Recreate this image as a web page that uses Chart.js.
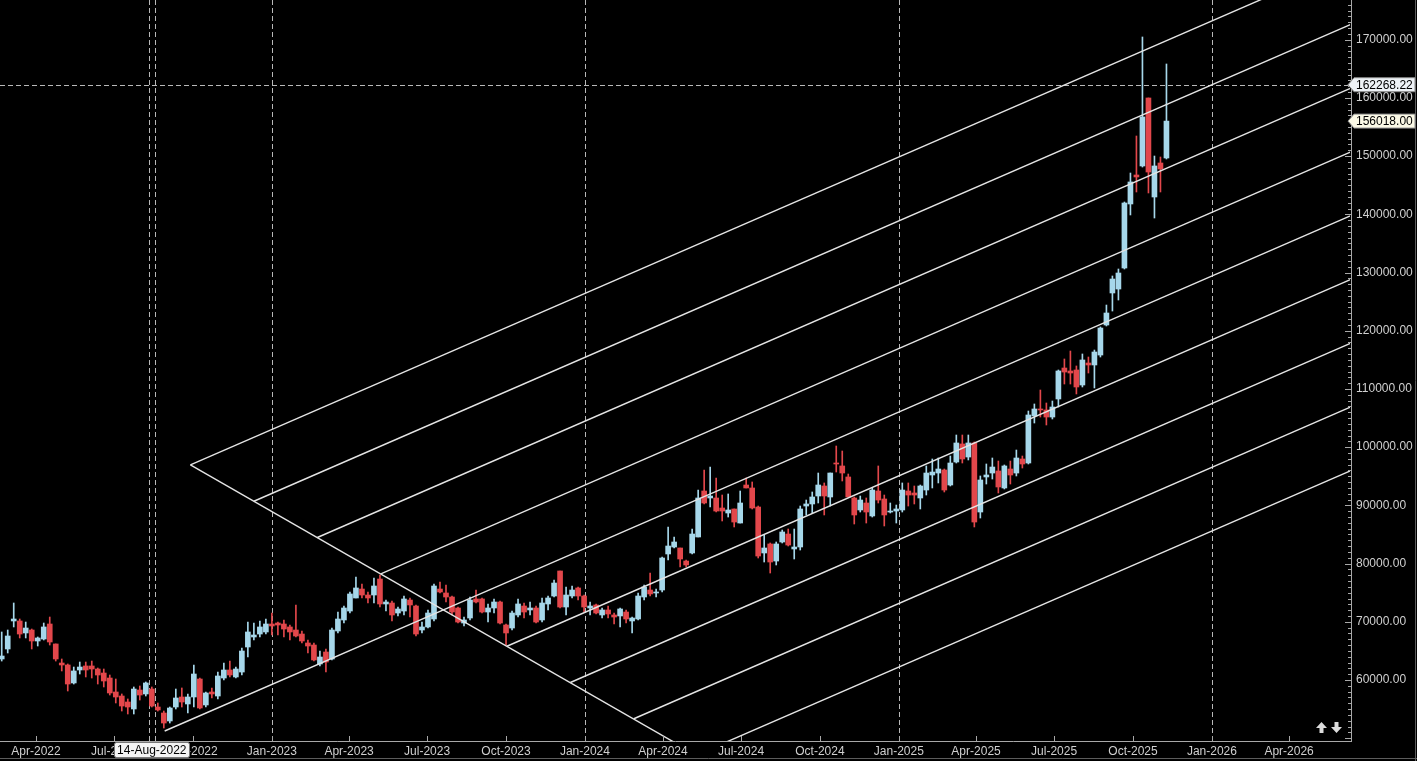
<!DOCTYPE html>
<html>
<head>
<meta charset="utf-8">
<script src="https://cdn.jsdelivr.net/npm/chart.js@4.4.0/dist/chart.umd.min.js"></script>
<style>
  html, body { margin: 0; padding: 0; background: #000; overflow: hidden; }
  #c { display: block; }
</style>
</head>
<body>
<canvas id="c" width="1417" height="761"></canvas>
<script>
// weekly candles, first one opens on this sunday
const firstWeek = '2022-02-20';

const opens = [
  63610,65330,70140,70140,68080,68590,66700,67040,69620,66190,
  62920,62580,59490,61720,62410,62410,61890,61200,60340,57940,
  57250,56220,55020,58280,57600,58450,55360,54330,52960,55360,
  57080,55880,57080,60170,55710,57940,57250,60340,61720,60520,
  61370,65670,67390,67900,68250,69620,69790,69620,69110,68590,
  67900,66360,66010,62750,64810,63610,68420,70310,71850,74090,
  75630,74600,74600,77350,73060,73230,71510,71850,73740,72710,
  68590,69110,70480,75630,74950,74260,72370,69790,70650,73920,
  73920,71680,72370,73400,69450,68930,71170,72710,72030,72370,
  70310,73060,74430,78730,72540,74430,75810,74430,72370,72890,
  71170,72030,71170,71000,71680,70140,70480,74260,75460,74950,
  75460,81650,82850,82680,80440,81820,84570,92470,91270,91270,
  89550,88690,89380,86970,93500,92990,89720,81820,83370,80440,
  83710,85080,82510,82850,89890,90240,91610,93330,91440,97280,
  96770,94880,91270,89210,90410,88180,92470,91100,88860,89030,
  89210,92470,92130,91270,92640,95220,95560,96080,93500,97450,
  100550,98310,100720,88860,94880,95560,95910,92990,96250,95560,
  97970,97280,105360,106560,106390,105180,108280,113600,113090,113260,
  110680,114460,114120,115830,120990,126490,127170,130780,141780,146760,
  148310,159990,142980,148820,149680
];
const highs = [
  68250,68590,73230,70480,69960,68760,67390,69790,70820,66190,
  63610,62750,62230,63090,63090,63260,62060,61890,60860,60170,
  57600,56740,58800,58970,59660,58800,56050,54670,55360,58450,
  58630,57600,62580,60340,57940,58630,61370,62920,63260,62230,
  65500,69960,69790,70140,70480,71510,69960,70310,69450,72880,
  68420,66870,66360,64980,65330,68930,71680,72710,75120,77700,
  76490,75120,77520,78040,73740,73570,72540,74430,74090,72890,
  69960,72030,76490,76840,76320,74430,72540,70820,74260,75460,
  74090,73060,73920,73570,69620,71850,73920,73230,73400,72710,
  74090,74430,77180,78730,75980,76150,75980,74600,73400,73060,
  72370,72710,71510,72370,72030,70820,74950,76320,78380,75630,
  81130,86290,84570,82680,80620,85940,92640,96080,96590,94700,
  91780,91960,89380,92470,94700,94020,89890,84910,83540,83710,
  85770,85940,85940,89890,90920,92300,95560,93850,95560,100200,
  99340,95390,91440,91610,91270,92990,96770,91780,90410,90060,
  93850,93850,93330,93500,96770,97970,98140,96250,98480,102090,
  102090,102090,100890,95050,97110,98140,97620,96940,97620,99510,
  98480,106210,107420,109820,107590,107930,113260,115150,116520,113950,
  116010,115490,116690,120650,124420,129410,130610,142120,147100,153460,
  170470,159990,150020,149850,165830
];
const lows = [
  63260,64640,69110,67220,67220,65330,65840,66870,66010,63260,
  61550,58110,59310,61030,60520,60340,59310,58800,57420,56050,
  54670,54160,54160,56560,57250,55360,54670,51750,52610,55020,
  55360,54330,55360,55020,55360,56910,56740,60000,60520,60340,
  60860,63950,66870,67390,67900,67730,67730,67390,66870,67390,
  66360,64640,63260,62410,61370,63440,68080,69790,71510,74090,
  74090,73230,73230,72540,71850,70140,71000,71170,70820,67560,
  68080,68930,70140,74950,73400,71170,69790,69280,70310,73230,
  71510,69960,71510,69620,66010,68590,70820,70650,71170,69790,
  69960,72030,74260,72370,71170,74090,73740,71680,71170,71340,
  70650,70650,69620,69110,69790,68080,70310,73740,74430,74260,
  75120,80620,82680,79410,79410,81650,84570,90240,89720,88860,
  87320,88000,86290,86970,92990,89380,80960,80270,78380,79760,
  83540,83020,80790,82330,88350,88690,90410,88350,89890,95730,
  94190,91440,86800,88860,86970,88000,90410,86460,88690,86970,
  88860,89890,90240,89380,91780,92990,93850,92300,93330,97280,
  97280,97800,86290,87830,93670,94530,92130,92820,93670,95050,
  96420,97110,104150,105180,103810,104840,106900,110850,110850,109140,
  110340,112740,110170,115490,120820,123390,125280,130610,139890,143840,
  148130,143670,139370,143840,149510
];
const closes = [
  64120,67560,70480,67900,68930,66700,67220,69110,66530,63610,
  62580,59310,61550,62230,61720,61890,60860,59830,57770,57080,
  55530,55360,58450,57420,59490,55530,54850,52610,55190,56910,
  56220,57080,61030,55190,57770,57600,60690,61720,60860,61890,
  64980,68250,67730,69110,69620,69280,69450,68760,68250,67560,
  66700,65840,63440,63950,63090,68590,70480,72370,74780,75810,
  74600,74090,76150,73060,73400,71170,72200,73920,72890,67900,
  69110,71510,76150,75120,74260,71680,69960,70310,73740,73400,
  71680,72370,73400,69790,68080,71510,73060,71680,72370,69960,
  73230,74090,76660,72540,74600,75460,74430,72540,72710,71510,
  72030,71340,70820,72200,70480,70650,74430,75980,74780,75120,
  80960,83020,83710,80790,79760,85080,91270,90410,91610,89030,
  89030,89210,87140,90410,92990,89550,81300,82680,80270,83370,
  85430,83190,82850,89380,90240,91440,93500,91610,95560,97110,
  95560,91440,88350,90920,88860,92640,90920,88350,89030,89380,
  92640,91780,91780,93330,95560,95730,96250,92640,97280,100720,
  97970,100720,87140,94360,95220,96590,93160,96770,95220,98140,
  97110,105530,106560,106390,105180,106900,113090,112910,112740,110340,
  114980,114120,116350,120470,123050,128890,129920,141950,145560,146420,
  156730,147270,148310,147790,156018
];

// axis ticks
const tickDates = ['2022-04-01','2022-07-01','2022-10-01','2023-01-01','2023-04-01','2023-07-01',
  '2023-10-01','2024-01-01','2024-04-01','2024-07-01','2024-10-01','2025-01-01','2025-04-01',
  '2025-07-01','2025-10-01','2026-01-01','2026-04-01'];
const tickLabels = ['Apr-2022','Jul-2022','Oct-2022','Jan-2023','Apr-2023','Jul-2023',
  'Oct-2023','Jan-2024','Apr-2024','Jul-2024','Oct-2024','Jan-2025','Apr-2025',
  'Jul-2025','Oct-2025','Jan-2026','Apr-2026'];
const priceTicks = [60000,70000,80000,90000,100000,110000,120000,130000,140000,150000,160000,170000];
const yearLines = ['2023-01-01','2024-01-01','2025-01-01','2026-01-01'];

// visible window
const viewStart = '2022-02-18', viewEnd = '2026-06-11';
const priceMin = 49520, priceMax = 176824;

// drawn channel: down leg and parallel lines starting along it
const fanStartDates = ['2022-09-28','2022-12-11','2023-02-23','2023-05-08','2023-07-20',
  '2023-10-02','2023-12-15','2024-02-27','2024-05-10'];
const fanStartPrices = [96940, 90710, 84480, 78250, 72030, 65800, 59570, 53340, 47110];
const fanEndDate = '2026-06-30';
const fanEndPrices = [184760, 173800, 162850, 151890, 140940, 129990, 119030, 108080, 97120];
const tailDate = '2022-08-29', tailPrice = 51240; // middle line reaches back to the aug-22 low

// cursor / last price
const cursorLabel = '14-Aug-2022';
const cursorDate = '2022-08-14';
const cursorLines = ['2022-08-11', '2022-08-18'];
const cursorPrice = 162268.22;
const lastPrice = 156018.00;

const BLUE = '#a6d7ea';
const RED = '#e2474b';
const TEXT = '#d0d0d0';
const FONT = 'Liberation Sans';

function dayOf(s) {
  return Date.parse(s + 'T00:00:00Z') / 864e5;
}

const weeks = opens.map((_, i) => dayOf(firstWeek) + 7 * i);
const candleColors = opens.map((o, i) => closes[i] >= o ? BLUE : RED);

const wickData = weeks.map((d, i) => ({ x: d, y: [lows[i], highs[i]] }));
const bodyData = weeks.map((d, i) => ({ x: d, y: [opens[i], closes[i]] }));

const lineSets = [];
const lineStyle = { type: 'line', borderColor: '#e4e4e4', borderWidth: 1.4, pointRadius: 0,
  fill: false, tension: 0, order: 0 };
// down leg
lineSets.push(Object.assign({ data: [
  { x: dayOf(fanStartDates[0]), y: fanStartPrices[0] },
  { x: dayOf(fanStartDates[8]), y: fanStartPrices[8] }
] }, lineStyle));
fanStartDates.forEach((d, k) => {
  const pts = [];
  if (k === 4) pts.push({ x: dayOf(tailDate), y: tailPrice });
  pts.push({ x: dayOf(d), y: fanStartPrices[k] });
  pts.push({ x: dayOf(fanEndDate), y: fanEndPrices[k] });
  lineSets.push(Object.assign({ data: pts }, lineStyle));
});

function seg(ctx, x1, y1, x2, y2) {
  ctx.beginPath();
  ctx.moveTo(x1, y1);
  ctx.lineTo(x2, y2);
  ctx.stroke();
}

function priceTag(ctx, x, y, text, fill) {
  ctx.save();
  ctx.font = '12px ' + FONT;
  const w = 63, h = 14;
  ctx.beginPath();
  ctx.moveTo(x - 4, y);
  ctx.lineTo(x + 2, y - h / 2);
  ctx.lineTo(x + w, y - h / 2);
  ctx.lineTo(x + w, y + h / 2);
  ctx.lineTo(x + 2, y + h / 2);
  ctx.closePath();
  ctx.fillStyle = fill;
  ctx.fill();
  ctx.strokeStyle = '#8a8a8a';
  ctx.lineWidth = 1;
  ctx.stroke();
  ctx.fillStyle = '#000';
  ctx.textBaseline = 'middle';
  ctx.textAlign = 'left';
  ctx.fillText(text, x + 4, y + 1);
  ctx.restore();
}

// thick scroll arrow, dir -1 = up, 1 = down
function arrow(ctx, cx, top, dir) {
  const h = 11, head = 6, hw = 5.5, sw = 2;
  const tip = dir < 0 ? top : top + h;
  const base = dir < 0 ? top + head : top + h - head;
  const tail = dir < 0 ? top + h : top;
  ctx.beginPath();
  ctx.moveTo(cx, tip);
  ctx.lineTo(cx + hw, base);
  ctx.lineTo(cx + sw, base);
  ctx.lineTo(cx + sw, tail);
  ctx.lineTo(cx - sw, tail);
  ctx.lineTo(cx - sw, base);
  ctx.lineTo(cx - hw, base);
  ctx.closePath();
  ctx.fill();
}

const overlay = {
  id: 'overlay',
  beforeDraw(chart) {
    const ctx = chart.ctx;
    ctx.save();
    ctx.fillStyle = '#000';
    ctx.fillRect(0, 0, chart.width, chart.height);
    ctx.restore();
  },
  beforeDatasetsDraw(chart) {
    const { ctx, chartArea: a, scales: { x, y } } = chart;
    ctx.save();
    ctx.strokeStyle = '#b8b8b8';
    ctx.lineWidth = 1;
    ctx.setLineDash([5, 3]);
    yearLines.concat(cursorLines).forEach(d => {
      const px = Math.round(x.getPixelForValue(dayOf(d))) + 0.5;
      seg(ctx, px, a.top, px, a.bottom);
    });
    const py = Math.round(y.getPixelForValue(cursorPrice)) + 0.5;
    seg(ctx, a.left, py, a.right, py);
    ctx.restore();
  },
  afterDraw(chart) {
    const { ctx, chartArea: a, scales: { x, y } } = chart;
    ctx.save();
    ctx.lineWidth = 1;
    // window border
    ctx.strokeStyle = '#5c5c5c';
    seg(ctx, 0, chart.height - 2.5, chart.width, chart.height - 2.5);
    seg(ctx, chart.width - 1.5, 0, chart.width - 1.5, chart.height);
    // frame
    ctx.strokeStyle = '#a8a8a8';
    seg(ctx, a.left, a.bottom + 0.5, a.right + 1, a.bottom + 0.5);
    seg(ctx, a.right + 1.5, a.top, a.right + 1.5, a.bottom + 1);
    // time ticks
    tickDates.forEach(d => {
      const px = Math.round(x.getPixelForValue(dayOf(d))) + 0.5;
      seg(ctx, px, a.bottom - 5, px, a.bottom);
    });
    // price ticks, one per 1000
    for (let v = 50000; v <= priceMax; v += 1000) {
      const py = Math.round(y.getPixelForValue(v)) + 0.5;
      const len = v % 10000 === 0 ? 6 : 3;
      seg(ctx, a.right + 1 - len, py, a.right + 1, py);
    }
    ctx.restore();

    priceTag(ctx, a.right + 2, y.getPixelForValue(cursorPrice), cursorPrice.toFixed(2), '#eef2f6');
    priceTag(ctx, a.right + 2, y.getPixelForValue(lastPrice), lastPrice.toFixed(2), '#fbf9e6');

    // cursor date label
    ctx.save();
    ctx.font = '12px ' + FONT;
    const cx = x.getPixelForValue(dayOf(cursorDate));
    const tw = ctx.measureText(cursorLabel).width + 6;
    ctx.fillStyle = '#f4f4f4';
    ctx.strokeStyle = '#777';
    ctx.beginPath();
    ctx.roundRect(Math.round(cx - tw / 2) + 0.5, a.bottom + 1.5, Math.round(tw), 15, 2);
    ctx.fill();
    ctx.stroke();
    ctx.fillStyle = '#000';
    ctx.textAlign = 'center';
    ctx.textBaseline = 'middle';
    ctx.fillText(cursorLabel, cx, a.bottom + 9.5);

    // scroll arrows
    ctx.fillStyle = '#dcdcdc';
    arrow(ctx, a.right - 28.5, a.bottom - 19, -1);
    arrow(ctx, a.right - 13.5, a.bottom - 19, 1);
    ctx.restore();
  }
};

new Chart(document.getElementById('c'), {
  type: 'bar',
  data: {
    datasets: [
      { type: 'bar', data: wickData, backgroundColor: candleColors, barThickness: 1,
        grouped: false, order: 2 },
      { type: 'bar', data: bodyData, backgroundColor: candleColors, barThickness: 5,
        minBarLength: 1, grouped: false, order: 1 }
    ].concat(lineSets)
  },
  options: {
    responsive: false,
    animation: false,
    events: [],
    layout: { padding: 0, autoPadding: false },
    plugins: { legend: { display: false }, tooltip: { enabled: false } },
    scales: {
      x: {
        type: 'linear',
        position: 'bottom',
        offset: false,
        min: dayOf(viewStart),
        max: dayOf(viewEnd),
        afterBuildTicks: s => { s.ticks = tickDates.map(d => ({ value: dayOf(d) })); },
        afterFit: s => { s.height = 20; s.paddingLeft = 0; s.paddingRight = 0; },
        grid: { display: false, drawTicks: false },
        border: { display: false },
        ticks: {
          autoSkip: false, maxRotation: 0, minRotation: 0, padding: 3,
          color: TEXT, font: { family: FONT, size: 12 },
          callback: (v, i) => tickLabels[i]
        }
      },
      y: {
        type: 'linear',
        position: 'right',
        min: priceMin,
        max: priceMax,
        afterBuildTicks: s => { s.ticks = priceTicks.map(v => ({ value: v })); },
        afterFit: s => { s.width = 67; s.paddingTop = 0; s.paddingBottom = 0; },
        grid: { display: false, drawTicks: false },
        border: { display: false },
        ticks: {
          padding: 6, color: TEXT, font: { family: FONT, size: 12 },
          callback: v => Number(v).toFixed(2)
        }
      }
    }
  },
  plugins: [overlay]
});
</script>
</body>
</html>
